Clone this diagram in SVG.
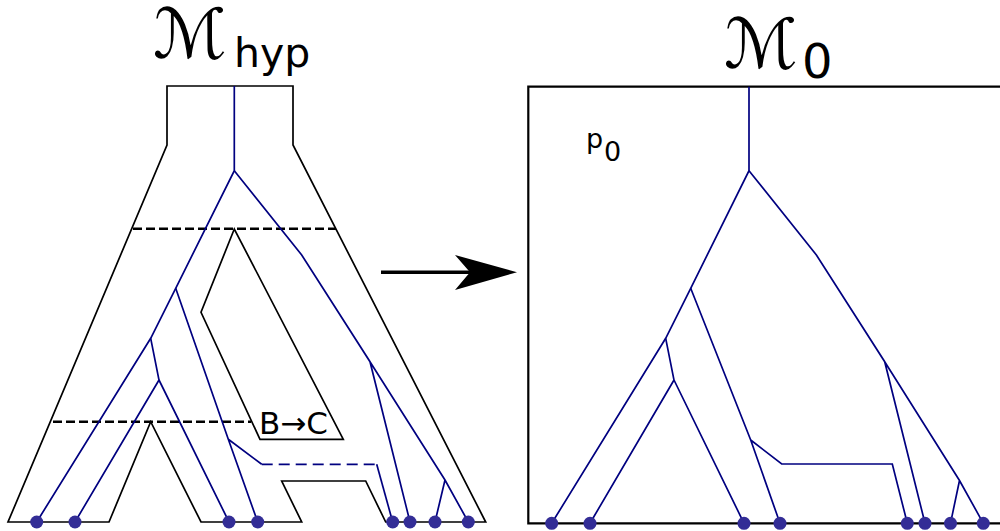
<svg xmlns="http://www.w3.org/2000/svg" width="1000" height="531" viewBox="0 0 1000 531">
<defs>
<style>
.outline{fill:none;stroke:#000;stroke-width:1.7;stroke-linejoin:miter}
.tree{fill:none;stroke:#000080;stroke-width:1.7;stroke-linejoin:miter}
.bdash{fill:none;stroke:#000080;stroke-width:1.7;stroke-dasharray:11,6}
.kdash{fill:none;stroke:#000;stroke-width:2.6;stroke-dasharray:9,4}
.leaf{fill:#332d96}
.txt{font-family:"DejaVu Sans","Liberation Sans",sans-serif;fill:#000}
.script{font-family:"DejaVu Serif","DejaVu Sans",serif;font-style:italic;fill:#000}
</style>
</defs>
<rect width="1000" height="531" fill="#fff"/>
<g id="panel-hyp">
<path class="outline" d="M167,86 H293 V145 L485.7,522 H385.7 L365.7,481 H281.7 L301.7,522 H201 L150.7,421.7 L109,522 H8 L167,145 Z"/>
<path class="outline" d="M234.3,229 L201,312.3 L260,439.3 H343.3 Z"/>
<line class="kdash" x1="133" y1="228.7" x2="336" y2="228.7"/>
<line class="kdash" x1="53" y1="421.7" x2="251" y2="421.7"/>
<text class="txt" x="259" y="434" font-size="31">B→C</text>
<text class="script" x="153" y="58" font-size="69">ℳ</text>
<text class="txt" x="234" y="67" font-size="41">hyp</text>
</g>
<g id="tree-hyp">
<path class="tree" d="M234.3,86 V170.7 L175.7,288.3 L150.7,338.3 L36.7,522"/>
<path class="tree" d="M150.7,338.3 L159,380 L75,522 M159,380 L229,522"/>
<path class="tree" d="M175.7,288.3 L228.3,439.3 L257.7,522 M228.3,439.3 L261.7,464.3"/>
<line class="bdash" x1="261.7" y1="464.3" x2="376.7" y2="464.3"/>
<path class="tree" d="M376.7,464.3 L392.7,522"/>
<path class="tree" d="M234.3,170.7 L301.7,255 L370,361.7 L410,522 M370,361.7 L445,480 L468.3,522 M445,480 L435,522"/>
<g class="leaf">
<circle cx="36.7" cy="522" r="6.5"/><circle cx="75" cy="522" r="6.5"/><circle cx="229" cy="522" r="6.5"/><circle cx="257.7" cy="522" r="6.5"/>
<circle cx="392.7" cy="522" r="6.5"/><circle cx="410" cy="522" r="6.5"/><circle cx="435" cy="522" r="6.5"/><circle cx="468.3" cy="522" r="6.5"/>
</g>
</g>
<g id="panel-0">
<path class="outline" d="M1010,86.7 H528.3 V523.3 H1010" style="stroke-width:2.2"/>
<text class="script" x="724" y="68" font-size="69">ℳ</text>
<text class="txt" x="802" y="78" font-size="48">0</text>
<text class="txt" x="586" y="148" font-size="27">p</text>
<text class="txt" x="604" y="161" font-size="27">0</text>
</g>
<g id="tree-0">
<path class="tree" d="M749,86.7 V170.7 L690.7,288.3 L665.7,338.3 L551.7,523.3"/>
<path class="tree" d="M665.7,338.3 L674,380 L590,523.3 M674,380 L744,523.3"/>
<path class="tree" d="M690.7,288.3 L750.7,440 L780,523.3 M750.7,440 L781.7,464 H892.3 L907.3,523.3"/>
<path class="tree" d="M749,170.7 L816.4,255 L884.7,361.7 L925,523.3 M884.7,361.7 L959.5,480.5 L983.3,523.3 M959.5,480.5 L950.5,523.3"/>
<g class="leaf">
<circle cx="551.7" cy="523.3" r="6.5"/><circle cx="590" cy="523.3" r="6.5"/><circle cx="744" cy="523.3" r="6.5"/><circle cx="780" cy="523.3" r="6.5"/>
<circle cx="907.3" cy="523.3" r="6.5"/><circle cx="925" cy="523.3" r="6.5"/><circle cx="950.5" cy="523.3" r="6.5"/><circle cx="983.3" cy="523.3" r="6.5"/>
</g>
</g>
<g id="connectors">
<line x1="381" y1="272.3" x2="472" y2="272.3" stroke="#000" stroke-width="3.6"/>
<polygon points="517,272.3 455,255 470,272.3 455,290" fill="#000"/>
</g>
</svg>
